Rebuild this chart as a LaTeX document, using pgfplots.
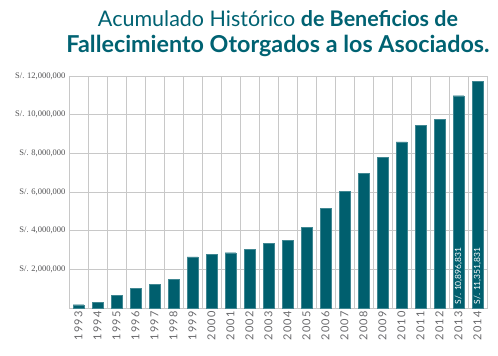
\documentclass[border=0pt]{standalone}
\usepackage{pgfplots}
\pgfplotsset{compat=1.18}
\usepackage{fontspec}
\setmainfont{Lato}
\newfontfamily\serifnum{Liberation Serif}
\newfontfamily\xlab[LetterSpace=10]{Lato}
\definecolor{barc}{RGB}{0,95,110}
\definecolor{titc}{RGB}{0,98,114}
\definecolor{gridc}{RGB}{200,200,200}
\definecolor{labc}{RGB}{105,105,108}
\definecolor{ylabc}{RGB}{80,80,82}
\begin{document}
\begin{tikzpicture}
\begin{axis}[
  at={(0,0)}, anchor=south west,
  scale only axis, width=418pt, height=232pt,
  xmin=-0.5, xmax=21.5, ymin=0, ymax=12000000,
  xtick={0,...,21},
  xticklabels={1993,1994,1995,1996,1997,1998,1999,2000,2001,2002,2003,2004,2005,2006,2007,2008,2009,2010,2011,2012,2013,2014},
  minor xtick={-0.5,0.5,...,21.5},
  xminorgrids, ymajorgrids,
  ytick={2000000,4000000,6000000,8000000,10000000,12000000},
  yticklabels={{S/. 2,000,000},{S/. 4,000,000},{S/. 6,000,000},{S/. 8,000,000},{S/. 10,000,000},{S/. 12,000,000}},
  scaled y ticks=false,
  major tick length=0pt, minor tick length=0pt,
  grid style={gridc, line width=0.8pt},
  minor grid style={gridc, line width=0.8pt},
  axis line style={gridc, line width=0.8pt},
  xticklabel style={rotate=90, anchor=east, font=\xlab\fontsize{11}{12}\selectfont, text=labc},
  yticklabel style={font=\serifnum\fontsize{8.5}{10}\selectfont, text=ylabc},
]
\addplot[ybar, bar width=10.7pt, fill=barc, draw=barc!75!white, line width=0.4pt]
coordinates {
(0,170000) (1,310000) (2,640000) (3,1000000) (4,1220000) (5,1470000)
(6,2640000) (7,2760000) (8,2860000) (9,3050000) (10,3340000) (11,3500000)
(12,4160000) (13,5160000) (14,6020000) (15,6950000) (16,7790000) (17,8590000)
(18,9430000) (19,9760000) (20,10980000) (21,11720000)
};
\addplot[draw=none, mark=none, nodes near coords, point meta=explicit symbolic,
  every node near coord/.append style={rotate=90, anchor=west, text=white,
  font=\fontsize{8.5}{10}\selectfont, inner sep=0pt, xshift=3.5pt}]
coordinates {(20,0) [S/. 10,896,831] (21,0) [S/. 11,351,831]};
\end{axis}
\node[text=titc, anchor=center] at (209pt,289pt) {\resizebox{360pt}{!}{Acumulado Histórico \textbf{de Beneficios de}}};
\node[text=titc, anchor=center] at (209pt,262pt) {\resizebox{423pt}{!}{\textbf{Fallecimiento Otorgados a los Asociados.}}};
\pgfresetboundingbox
\path (-69pt,-48pt) rectangle (429pt,308pt);
\end{tikzpicture}
\end{document}
